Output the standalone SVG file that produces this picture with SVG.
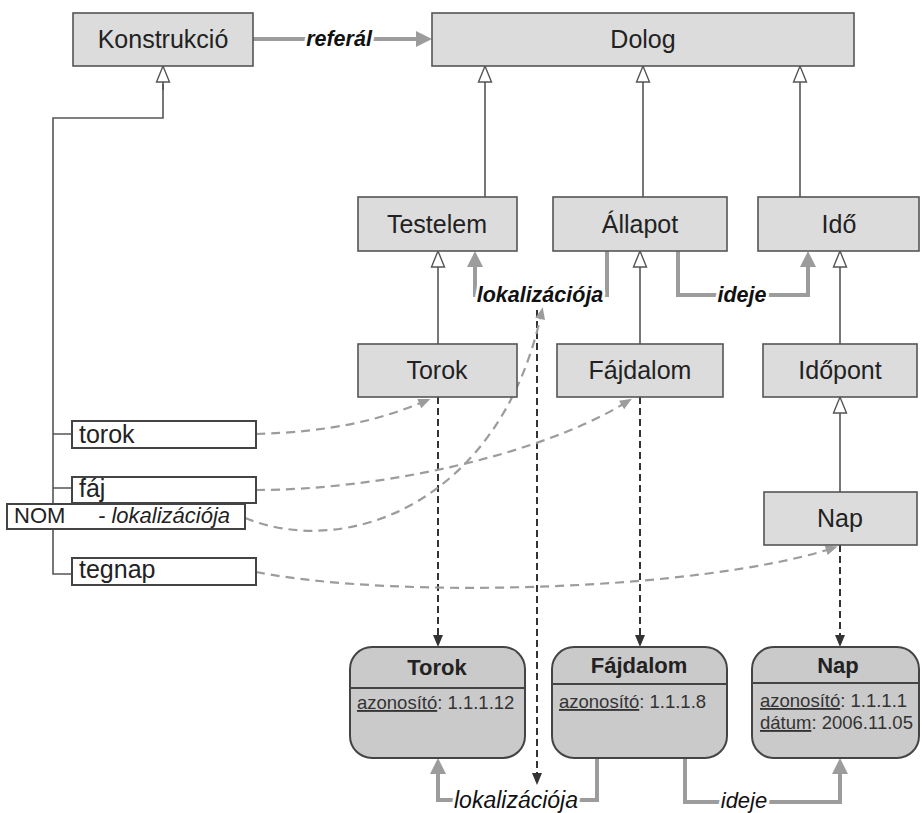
<svg xmlns="http://www.w3.org/2000/svg" width="922" height="813" viewBox="0 0 922 813">
<style>
.box{fill:#dcdcdc;stroke:#555;stroke-width:1.6}
.rbox{fill:#cacaca;stroke:#444;stroke-width:2}
.lbox{fill:#fff;stroke:#444;stroke-width:2}
.t{font-family:"Liberation Sans",Arial,sans-serif;font-size:25px;fill:#222;text-anchor:middle}
.lt{font-family:"Liberation Sans",Arial,sans-serif;font-size:25px;fill:#222}
.bt{font-family:"Liberation Sans",Arial,sans-serif;font-size:22px;font-weight:bold;fill:#222;text-anchor:middle}
.at{font-family:"Liberation Sans",Arial,sans-serif;font-size:18.5px;fill:#333}
.lab{font-family:"Liberation Sans",Arial,sans-serif;font-size:21.5px;font-weight:bold;font-style:italic;fill:#111;text-anchor:middle;stroke:#fff;stroke-width:6;paint-order:stroke;stroke-linejoin:round}
.lab2{font-family:"Liberation Sans",Arial,sans-serif;font-size:23px;font-style:italic;fill:#111;text-anchor:middle;stroke:#fff;stroke-width:6;paint-order:stroke;stroke-linejoin:round}
.gen{fill:none;stroke:#555;stroke-width:1.6;marker-end:url(#gen)}
.tree{fill:none;stroke:#555;stroke-width:1.6}
.assoc{fill:none;stroke:#9c9c9c;stroke-width:4;marker-end:url(#assoc)}
.dep{fill:none;stroke:#333;stroke-width:2;stroke-dasharray:7 4;marker-end:url(#dep)}
.ref{fill:none;stroke:#9c9c9c;stroke-width:2.2;stroke-dasharray:9 6;marker-end:url(#dgray)}
</style>
<defs>
<marker id="gen" markerUnits="userSpaceOnUse" markerWidth="20" markerHeight="16" refX="16" refY="7" orient="auto" overflow="visible">
<path d="M0,0.5 L16,7 L0,13.5 z" fill="#fff" stroke="#555" stroke-width="1.4"/>
</marker>
<marker id="assoc" markerUnits="userSpaceOnUse" markerWidth="18" markerHeight="18" refX="6" refY="8" orient="auto" overflow="visible">
<path d="M0,0 L16,8 L0,16 z" fill="#9c9c9c"/>
</marker>
<marker id="dep" markerUnits="userSpaceOnUse" markerWidth="14" markerHeight="12" refX="4" refY="5" orient="auto" overflow="visible">
<path d="M0,0 L12,5 L0,10 z" fill="#333"/>
</marker>
<marker id="dgray" markerUnits="userSpaceOnUse" markerWidth="14" markerHeight="12" refX="4" refY="5" orient="auto" overflow="visible">
<path d="M0,0 L12,5 L0,10 z" fill="#9c9c9c"/>
</marker>
</defs>
<rect width="922" height="813" fill="#fff"/>

<g id="connectors">
<path class="tree" d="M72,574 L53,574 L53,118 L163,118 L163,84"/>
<path class="gen" d="M163,90 L163,66"/>
<path class="tree" d="M53,434 L72,434 M53,488 L72,488"/>
<path class="gen" d="M485,197 L485,66"/>
<path class="gen" d="M643,197 L643,66"/>
<path class="gen" d="M800,197 L800,66"/>
<path class="gen" d="M438,344 L438,251"/>
<path class="gen" d="M640,344 L640,251"/>
<path class="gen" d="M840,344 L840,251"/>
<path class="gen" d="M840,492 L840,397"/>

<path class="assoc" d="M253,39 L422,39"/>
<path class="assoc" d="M607,251 L607,295 L475,295 L475,261"/>
<path class="assoc" d="M678,251 L678,295 L808,295 L808,261"/>
<path class="assoc" d="M597,758 L597,800 L438,800 L438,768"/>
<path class="assoc" d="M685,758 L685,802 L840,802 L840,768"/>

<path class="dep" d="M438,397 L438,639"/>
<path class="dep" d="M640,397 L640,639"/>
<path class="dep" d="M840,545 L840,639"/>
<path class="dep" d="M537,310 L537,777"/>

<path class="ref" d="M256,434 C330,432 380,420 423,402"/>
<path class="ref" d="M256,490 C380,490 540,455 625,403"/>
<path class="ref" d="M245,518 C350,560 500,500 541,315"/>
<path class="ref" d="M256,572 C400,600 700,590 830,549"/>

<text class="lab" x="339" y="46">referál</text>
<text class="lab" x="540" y="302">lokalizációja</text>
<text class="lab" x="742" y="302">ideje</text>
<text class="lab2" x="516" y="808">lokalizációja</text>
<text class="lab2" style="font-size:22px" x="744" y="808">ideje</text>
</g>

<g id="konstrukcio"><rect class="box" x="73" y="13" width="180" height="53"/><text class="t" x="163" y="48">Konstrukció</text></g>
<g id="dolog"><rect class="box" x="432" y="13" width="422" height="53"/><text class="t" x="643" y="48">Dolog</text></g>
<g id="testelem"><rect class="box" x="358" y="197" width="159" height="54"/><text class="t" x="437" y="233">Testelem</text></g>
<g id="allapot"><rect class="box" x="553" y="197" width="174" height="54"/><text class="t" x="640" y="233">Állapot</text></g>
<g id="ido"><rect class="box" x="758" y="197" width="161" height="54"/><text class="t" x="839" y="233">Idő</text></g>
<g id="torok"><rect class="box" x="358" y="344" width="159" height="53"/><text class="t" x="437" y="379">Torok</text></g>
<g id="fajdalom"><rect class="box" x="557" y="344" width="166" height="53"/><text class="t" x="640" y="379">Fájdalom</text></g>
<g id="idopont"><rect class="box" x="763" y="344" width="154" height="53"/><text class="t" x="840" y="379">Időpont</text></g>
<g id="nap"><rect class="box" x="764" y="492" width="153" height="53"/><text class="t" x="840" y="527">Nap</text></g>

<g id="w-torok"><rect class="lbox" x="72" y="421" width="184" height="27"/><text class="lt" x="79" y="443">torok</text></g>
<g id="w-faj"><rect class="lbox" x="72" y="477" width="184" height="26"/><text class="lt" x="79" y="497">fáj</text></g>
<g id="w-nom"><rect class="lbox" x="7" y="504" width="238" height="25"/><text class="lt" style="font-size:22px" x="14" y="523">NOM<tspan x="98" font-style="italic">- lokalizációja</tspan></text></g>
<g id="w-tegnap"><rect class="lbox" x="72" y="558" width="184" height="27"/><text class="lt" x="79" y="578">tegnap</text></g>

<g id="i-torok"><rect class="rbox" x="350" y="647" width="175" height="111" rx="22"/><line x1="350" y1="688" x2="525" y2="688" stroke="#444" stroke-width="2"/><text class="bt" x="437" y="675">Torok</text><text class="at" x="357" y="709"><tspan text-decoration="underline">azonosító</tspan>: 1.1.1.12</text></g>
<g id="i-fajdalom"><rect class="rbox" x="552" y="647" width="175" height="111" rx="22"/><line x1="552" y1="684" x2="727" y2="684" stroke="#444" stroke-width="2"/><text class="bt" x="639" y="673">Fájdalom</text><text class="at" x="559" y="708"><tspan text-decoration="underline">azonosító</tspan>: 1.1.1.8</text></g>
<g id="i-nap"><rect class="rbox" x="752" y="647" width="167" height="111" rx="22"/><line x1="752" y1="683" x2="919" y2="683" stroke="#444" stroke-width="2"/><text class="bt" x="838" y="673">Nap</text><text class="at" x="760" y="707"><tspan text-decoration="underline">azonosító</tspan>: 1.1.1.1</text><text class="at" x="760" y="729"><tspan text-decoration="underline">dátum</tspan>: 2006.11.05</text></g>
</svg>
